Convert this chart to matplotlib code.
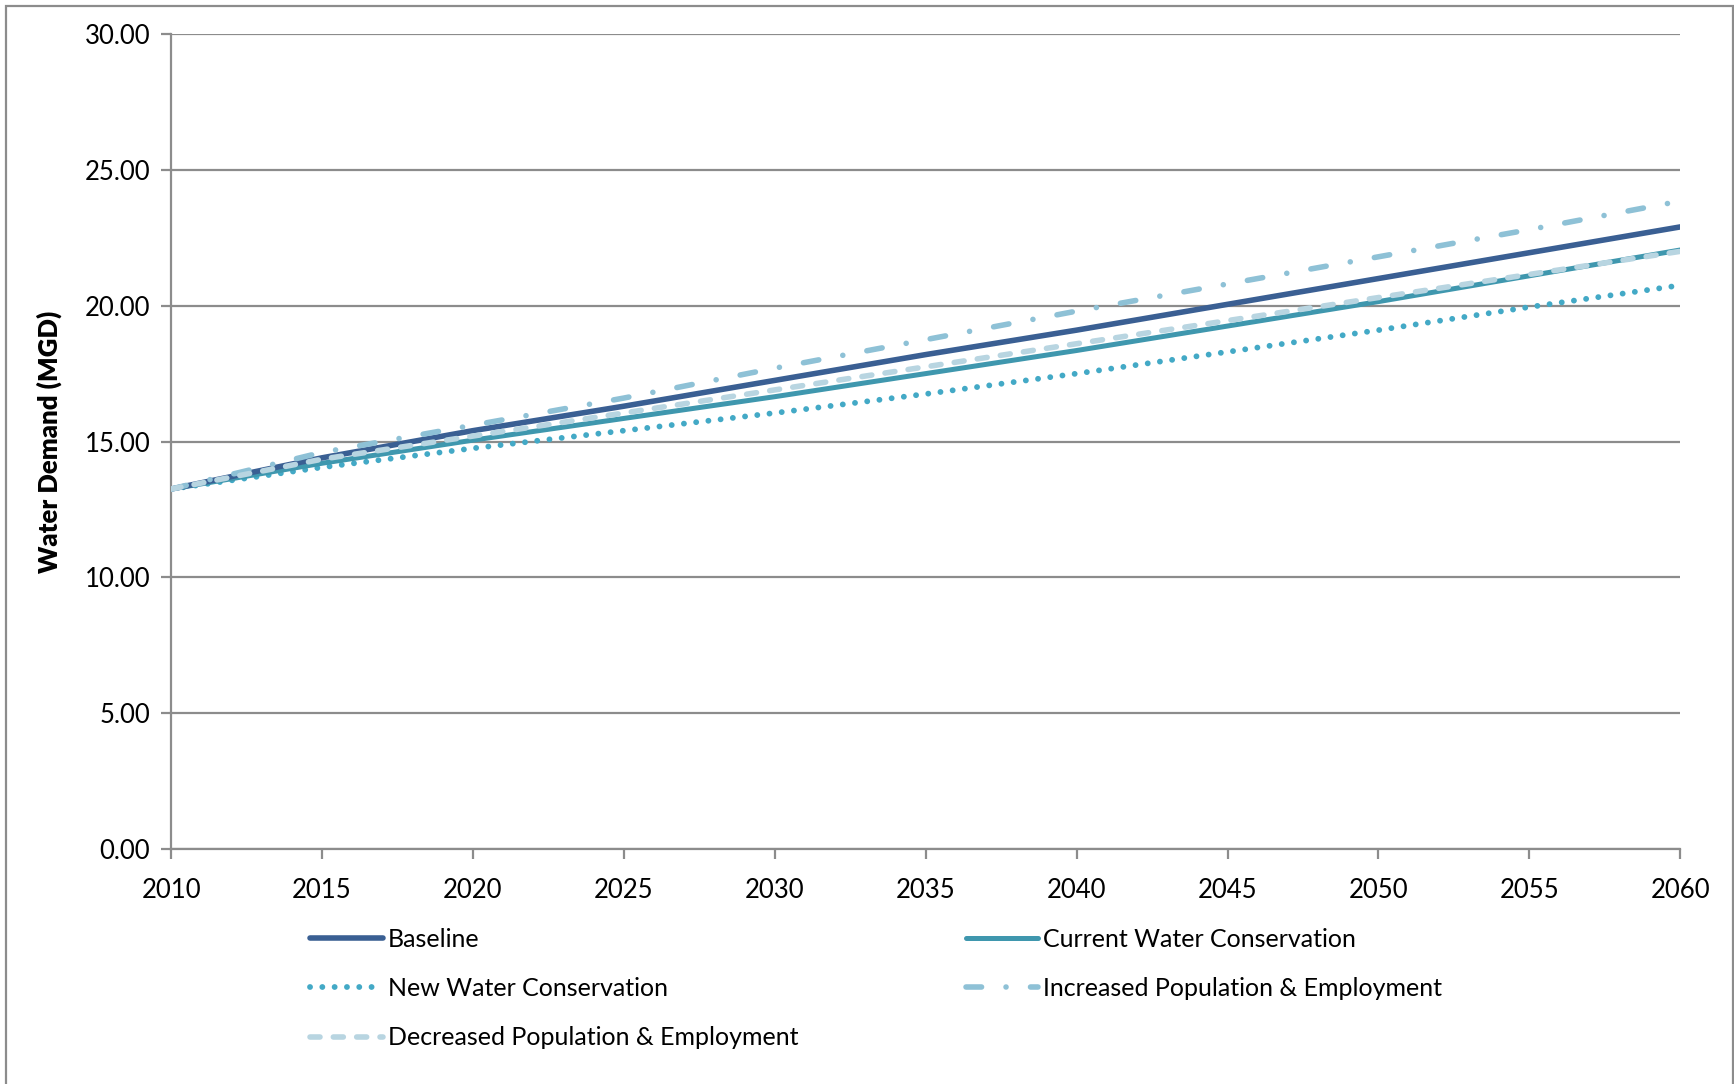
import matplotlib
matplotlib.use("Agg")
import matplotlib.pyplot as plt
from matplotlib.patches import Rectangle
from matplotlib.ticker import FormatStrFormatter

plt.rcParams["font.family"] = ["Lato", "DejaVu Sans"]

# demanda projetada em intervalos de 5 anos (MGD)
anos = [2010, 2015, 2020, 2025, 2030, 2035, 2040, 2045, 2050, 2055, 2060]
baseline = [13.25, 14.40, 15.40, 16.30, 17.25, 18.20, 19.10, 20.05, 21.00, 21.95, 22.90]
conservacao_atual = [13.25, 14.20, 15.05, 15.85, 16.65, 17.50, 18.35, 19.25, 20.15, 21.10, 22.05]
conservacao_nova = [13.25, 14.05, 14.75, 15.40, 16.05, 16.75, 17.50, 18.30, 19.10, 19.95, 20.75]
pop_maior = [13.25, 14.60, 15.60, 16.60, 17.70, 18.75, 19.80, 20.80, 21.80, 22.80, 23.85]
pop_menor = [13.25, 14.35, 15.20, 16.05, 16.90, 17.75, 18.60, 19.45, 20.30, 21.15, 22.00]

rotulos = ["Baseline", "Current Water Conservation", "New Water Conservation",
           "Increased Population & Employment", "Decreased Population & Employment"]

fig = plt.figure(figsize=(17.34, 10.84), dpi=100)
ax = fig.add_axes([0.0987, 0.2168, 0.8703, 0.7518])

cinza = "#8c8c8c"

l_base, = ax.plot(anos, baseline, color="#3a5f93", lw=4.0, solid_capstyle="round",
                  label=rotulos[0], zorder=5)
l_atual, = ax.plot(anos, conservacao_atual, color="#3f97ae", lw=3.6, solid_capstyle="round",
                   label=rotulos[1], zorder=4)
l_nova, = ax.plot(anos, conservacao_nova, color="#43a9c6", lw=4.2, dash_capstyle="round",
                  label=rotulos[2], zorder=3)
l_nova.set_dashes((0.01, 2.1))
l_maior, = ax.plot(anos, pop_maior, color="#8ec1d6", lw=4.0, dash_capstyle="round",
                   label=rotulos[3], zorder=6)
l_maior.set_dashes((2.8, 4.4, 0.01, 4.4))
l_menor, = ax.plot(anos, pop_menor, color="#b8d5e1", lw=4.0, dash_capstyle="round",
                   label=rotulos[4], zorder=7)
l_menor.set_dashes((1.8, 2.4))

ax.set_xlim(2010, 2060)
ax.set_ylim(0, 30)
ax.set_xticks(range(2010, 2061, 5))
ax.set_yticks(range(0, 31, 5))
ax.yaxis.set_major_formatter(FormatStrFormatter("%.2f"))
ax.grid(axis="y", color=cinza, lw=1.6)
ax.set_axisbelow(True)

for lado in ["top", "right"]:
    ax.spines[lado].set_visible(False)
for lado in ["left", "bottom"]:
    ax.spines[lado].set_color(cinza)
    ax.spines[lado].set_linewidth(1.6)

ax.tick_params(axis="both", direction="out", length=7, width=1.6, color=cinza,
               labelsize=18.5, pad=8)
ax.tick_params(axis="x", pad=14)
ax.set_ylabel("Water Demand (MGD)", fontsize=18.5, fontweight="heavy", labelpad=16)

# legenda em duas colunas abaixo do gráfico
alcas = [l_base, l_nova, l_menor, l_atual, l_maior]
fig.legend(alcas, [a.get_label() for a in alcas], loc="upper left",
           bbox_to_anchor=(0.179, 0.144), ncol=2, frameon=False, fontsize=18,
           handlelength=2.9, handletextpad=0.2, labelspacing=1.05,
           columnspacing=6.7, borderaxespad=0, borderpad=0)

# moldura cinza em volta da figura
fig.add_artist(Rectangle((6 / 1734, -0.05), 1727 / 1734, 1.05 - 6 / 1084,
                         transform=fig.transFigure, fill=False,
                         edgecolor=cinza, lw=1.6))

fig.savefig("out.png", dpi=100)
